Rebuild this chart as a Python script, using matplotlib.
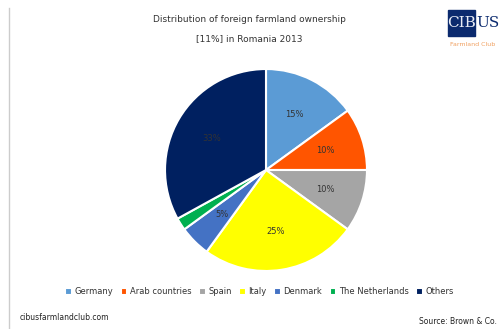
import matplotlib.pyplot as plt
from matplotlib.patches import Rectangle

countries = ['Germany', 'Arab countries', 'Spain', 'Italy', 'Denmark', 'The Netherlands', 'Others']
shares = [15, 10, 10, 25, 5, 2, 33]
colors = ['#5B9BD5', '#FF5500', '#A5A5A5', '#FFFF00', '#4472C4', '#00B050', '#002060']

fig = plt.figure(figsize=(4.99, 3.29), dpi=100)
fig.patch.set_facecolor('white')

# pie, center around (266,170) px, radius ~103 px
W, H = 499, 329
cx, cy, r = 266, 170, 103
ax = fig.add_axes([(cx - r) / W, (H - cy - r) / H, 2 * r / W, 2 * r / H])
wedges, texts, autotexts = ax.pie(
    shares, colors=colors, startangle=90, counterclock=False,
    autopct=lambda p: f'{p:.0f}%' if p >= 3 else '',
    pctdistance=0.62, radius=1.0,
    wedgeprops=dict(edgecolor='white', linewidth=1.5),
    textprops=dict(fontsize=6, color='#333333'))
ax.set_xlim(-1.02, 1.02)
ax.set_ylim(-1.02, 1.02)
ax.set_aspect('equal')

# left border line
fig.add_artist(plt.Line2D([9 / W, 9 / W], [0.0, 1 - 8 / H], color='#cccccc', lw=1.0))

fig.text(0.50, 1 - 19 / H, 'Distribution of foreign farmland ownership',
         ha='center', va='center', fontsize=6.5, color='#333333')
fig.text(0.50, 1 - 39 / H, '[11%] in Romania 2013',
         ha='center', va='center', fontsize=6.5, color='#333333')

# logo
fig.add_artist(Rectangle((448 / W, 1 - 36 / H), 27 / W, 26 / H,
                         transform=fig.transFigure, color='#0B2A6E'))
fig.text(461 / W, 1 - 23 / H, 'CIB', ha='center', va='center', fontsize=11,
         color='#E8ECF5', family='DejaVu Serif')
fig.text(476 / W, 1 - 23 / H, 'US', ha='left', va='center', fontsize=11,
         color='#0B2A6E', family='DejaVu Serif')
fig.text(450 / W, 1 - 44 / H, 'Farmland Club', ha='left', va='center', fontsize=4.5,
         color='#F0A060')

leg = fig.legend(wedges, countries, loc='center', bbox_to_anchor=(0.52, 1 - 292 / H),
                 ncol=7, fontsize=6, frameon=False, handlelength=0.8, handleheight=0.8,
                 handletextpad=0.3, columnspacing=0.9)
for t in leg.get_texts():
    t.set_color('#333333')

fig.text(20 / W, 1 - 318 / H, 'cibusfarmlandclub.com', ha='left', va='center',
         fontsize=5.5, color='#222222')
fig.text(497 / W, 1 - 322 / H, 'Source: Brown & Co.', ha='right', va='center',
         fontsize=5.5, color='#222222')

fig.savefig('out.png', dpi=100)
